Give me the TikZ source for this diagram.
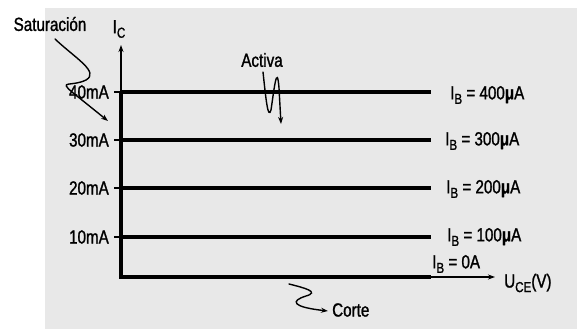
\documentclass[tikz,border=0pt]{standalone}
\usepackage{fontspec}
\setmainfont[FakeStretch=0.8,FakeBold=1.2]{Liberation Sans}
\usetikzlibrary{arrows.meta}
\definecolor{bggray}{HTML}{E8E8E8}
\newcommand\lowsub[1]{\raisebox{-0.45ex}{\fontsize{14.5}{14.5}\selectfont #1}}
\tikzset{
  lbl/.style={inner sep=0pt, font=\fontsize{19}{22}\selectfont},
  curve/.style={line width=1.4pt, line cap=round},
  thin/.style={line width=1.1pt},
  thickline/.style={line width=4pt},
  tip/.style={-{Stealth[length=7pt,width=5pt]}},
}
\begin{document}
\begin{tikzpicture}[x=1pt,y=-1pt]
\useasboundingbox (0,0) rectangle (577,329);
\fill[bggray] (45,8) rectangle (577,329);
% key coordinates
\coordinate (O) at (121,277);
\coordinate (Ytop) at (121,45);
\coordinate (Y40) at (121,92);
\coordinate (Y30) at (121,140);
\coordinate (Y20) at (121,188);
\coordinate (Y10) at (121,237);
\coordinate (E40) at (431,92);
\coordinate (E30) at (431,140);
\coordinate (E20) at (431,188);
\coordinate (E10) at (431,237);
\coordinate (E0) at (431,277);
\coordinate (Xend) at (495,277);
\coordinate (T40) at (114,92);
\coordinate (T30) at (114,140);
\coordinate (T20) at (114,188);
\coordinate (T10) at (114,237);
% axes
\draw[thin,tip] (Y40) -- (Ytop);
\draw[thin,tip] (E0) -- (Xend);
\draw[thickline,line join=miter] (Y40) -- (O) -- (E0);
% curves
\draw[thickline] (Y40) -- (E40);
\draw[thickline] (Y30) -- (E30);
\draw[thickline] (Y20) -- (E20);
\draw[thickline] (Y10) -- (E10);
% ticks
\draw[thin] (T40) -- (Y40);
\draw[thin] (T30) -- (Y30);
\draw[thin] (T20) -- (Y20);
\draw[thin] (T10) -- (Y10);
% labels
\node[lbl,anchor=east] (l40) at (109,92) {40mA};
\node[lbl,anchor=east] (l30) at (109,140) {30mA};
\node[lbl,anchor=east] (l20) at (109,188) {20mA};
\node[lbl,anchor=east] (l10) at (109,237) {10mA};
\node[lbl,anchor=west] (b400) at (450,95) {I\lowsub{B} = 400\textbf{μ}A};
\node[lbl,anchor=west] (b300) at (445,141) {I\lowsub{B} = 300\textbf{μ}A};
\node[lbl,anchor=west] (b200) at (446,189) {I\lowsub{B} = 200\textbf{μ}A};
\node[lbl,anchor=west] (b100) at (447,237) {I\lowsub{B} = 100\textbf{μ}A};
\node[lbl,anchor=west] (b0) at (432,264) {I\lowsub{B} = 0A};
\node[lbl,anchor=west] (uce) at (504,283) {U\lowsub{CE}(V)};
\node[lbl] (ic) at (119,29) {I\lowsub{C}};
\node[lbl] (sat) at (50,24) {Saturación};
\node[lbl] (act) at (262,60) {Activa};
\node[lbl,anchor=west] (corte) at (332,310) {Corte};
% region pointers
\coordinate (s0) at (55,39);
\coordinate (s1) at (108,121);
\draw[curve,tip] (s0) .. controls (75,58) and (100,72) .. (86,80)
   .. controls (72,87) and (58,80) .. (72,92) -- (s1);
\coordinate (a0) at (263,72);
\coordinate (a1) at (281,124);
\draw[curve,tip] (a0) .. controls (266,100) and (268,120) .. (271,110)
   .. controls (274,90) and (277,62) .. (279,88) -- (a1);
\coordinate (c0) at (289,284);
\coordinate (c1) at (328,311);
\draw[curve,tip] (c0) .. controls (305,288) and (320,292) .. (306,296)
   .. controls (290,301) and (292,307) .. (c1);
\end{tikzpicture}
\end{document}
